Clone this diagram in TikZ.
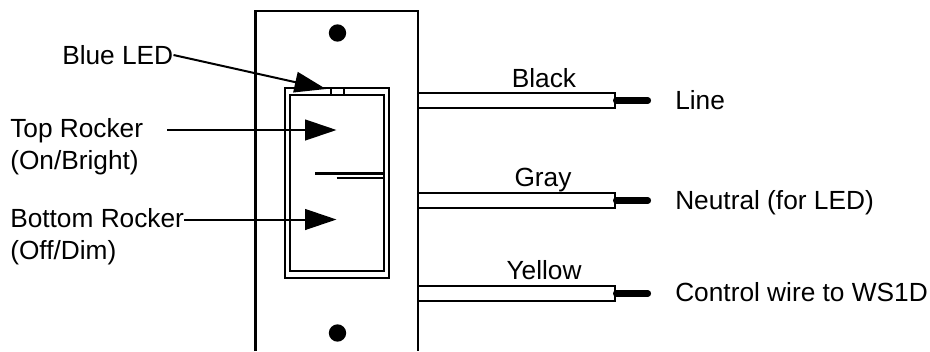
\documentclass[tikz,border=0pt]{standalone}
\usepackage{fontspec}
\setmainfont{Liberation Sans}
\usetikzlibrary{arrows.meta,positioning,calc}
\pgfdeclarelayer{bg}
\pgfsetlayers{bg,main}
\tikzset{
  plate/.style={line width=1.6pt},
  lbl/.style={inner sep=0pt,anchor=west,font=\fontsize{19.7}{23}\selectfont,text height=14pt,text depth=0pt},
  wirelbl/.style={inner sep=0pt,font=\fontsize{19.7}{23}\selectfont,text height=14pt,text depth=0pt},
  wire/.style={draw,line width=1.6pt,fill=white,inner sep=0pt,minimum width=147.75pt,minimum height=11.25pt},
  stub/.style={line width=4.6pt,line cap=round},
  screw/.style={circle,fill=black,inner sep=0pt,minimum size=13pt},
  pointer/.style={line width=1.5pt,-{Triangle[length=23.5pt,width=15.5pt]}},
}
\begin{document}
\begin{tikzpicture}[x=0.75pt,y=-0.75pt]
    \useasboundingbox (0,0) rectangle (930,351);
    % faceplate
    \draw [plate] (255.5,351) -- (255.5,11) -- (418,11) -- (418,351);
    \node [screw] (s1) at (337.5,33) {};
    \node [screw] (s2) at (337.5,333) {};

    % rocker frame
    \draw [plate] (285,88) rectangle (389,278);
    \draw [plate] (290,95) rectangle (384,271);
    \node [draw,line width=1.6pt,fill=white,inner sep=0pt,minimum width=9.75pt,minimum height=5.25pt] (led) at (337.5,91.5) {};
    \draw [plate] (315,173.5) -- (384,173.5);
    \draw [plate] (336.5,178) -- (384,178);

    % wires
    \node [wire] (w1) at (516.5,100.5) {};
    \node [wire] (w2) at (516.5,200.5) {};
    \node [wire] (w3) at (516.5,293.5) {};
    \coordinate (e1) at (648,100.5);
    \coordinate (e2) at (648,200.5);
    \coordinate (e3) at (648,293.5);
    \draw [stub] (w1.east) -- (e1);
    \draw [stub] (w2.east) -- (e2);
    \draw [stub] (w3.east) -- (e3);
    \node [wirelbl] (black) at (544,78) {Black};
    \node [wirelbl] (gray) at (543,177) {Gray};
    \node [wirelbl] (yellow) at (544,270) {Yellow};
    \node [lbl] (line) at (675,100) {Line};
    \node [lbl] (neutral) at (675,200) {Neutral (for LED)};
    \node [lbl] (control) at (675,292) {Control wire to WS1D};

    % left labels
    \node [lbl] (blue) at (62,55) {Blue LED};
    \node [lbl] (top) at (10,128) {Top Rocker};
    \node [lbl] (on) at (10,160) {(On/Bright)};
    \node [lbl] (bottom) at (10,218) {Bottom Rocker};
    \node [lbl] (off) at (10,250) {(Off/Dim)};

    % pointers
    \coordinate (tipa) at (326,89);
    \coordinate (tipb) at (336.5,130);
    \coordinate (tipc) at (336.5,219.5);
    \coordinate (topstart) at (167,130);
    \draw [pointer] (blue.east) -- (tipa);
    \draw [pointer] (topstart) -- (tipb);
    \draw [pointer] (bottom.east |- tipc) -- (tipc);
\end{tikzpicture}
\end{document}
